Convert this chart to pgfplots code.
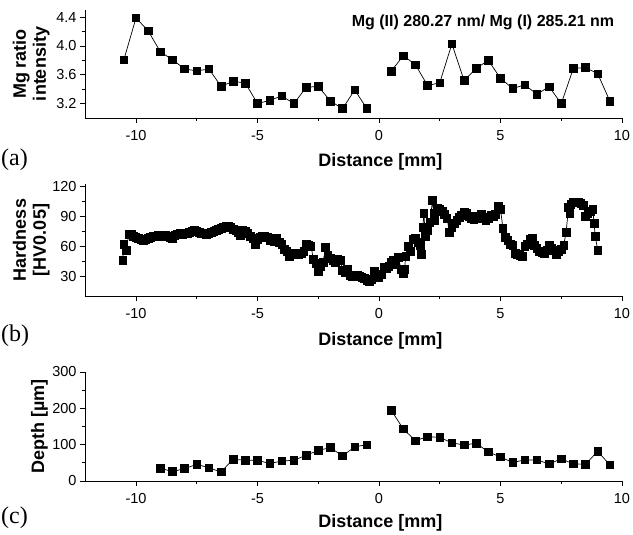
\documentclass[border=0pt]{standalone}
\usepackage{pgfplots}
\pgfplotsset{compat=1.18}
\usepackage{fontspec}
\setmainfont{Liberation Sans}
\newfontfamily\seriffont{Liberation Serif}

\pgfplotsset{
 ser/.style={black, line width=0.7pt, mark=square*, mark size=3.8pt, mark options={solid, fill=black, draw=black}},
 panel/.style={
  scale only axis, width=537pt, xmin=-12.1, xmax=10,
  axis x line*=bottom, axis y line*=left,
  axis line style={-, line width=0.8pt},
  tick align=outside, major tick length=5pt, minor tick length=3pt,
  xtick={-10,-5,0,5,10}, xticklabels={-10,-5,0,5,10},
  minor x tick num=1, minor y tick num=1,
  tick style={black, line width=0.8pt},
  ticklabel style={font=\fontsize{14.5}{14.5}\selectfont},
  xticklabel style={yshift=-4pt},
  label style={font=\fontsize{18}{20}\selectfont\bfseries, align=center},
  xlabel={Distance [mm]},
  clip=false,
 }
}

\begin{document}
\begin{tikzpicture}[x=1pt,y=1pt]
\useasboundingbox (0,0) rectangle (633,535);

% ---------- (a)
\begin{axis}[panel, at={(85pt,417pt)}, anchor=south west, height=108pt,
  ymin=3.0, ymax=4.5, ytick={3.2,3.6,4.0,4.4}, yticklabels={3.2,3.6,4.0,4.4},
  ylabel={Mg ratio\\intensity},
  ylabel style={at={(axis description cs:-0.1,0.5)}, anchor=center},
  xlabel style={at={(axis description cs:0.55,-0.41)}, anchor=center}]
\addplot[ser] coordinates {
(-10.5,3.81) (-10,4.39) (-9.5,4.21) (-9,3.92) (-8.5,3.81) (-8,3.68) (-7.5,3.655)
(-7,3.68) (-6.5,3.44) (-6,3.51) (-5.5,3.485) (-5,3.20) (-4.5,3.245) (-4,3.305)
(-3.5,3.20) (-3,3.425) (-2.5,3.44) (-2,3.235) (-1.5,3.13) (-1,3.39) (-0.5,3.13)};
\addplot[ser] coordinates {
(0.5,3.65) (1,3.865) (1.5,3.74) (2,3.45) (2.5,3.49) (3,4.03) (3.5,3.52) (4,3.69)
(4.5,3.80) (5,3.55) (5.5,3.41) (6,3.46) (6.5,3.33) (7,3.435) (7.5,3.20) (8,3.69)
(8.5,3.70) (9,3.615) (9.5,3.235)};
\end{axis}

% ---------- (b)
\begin{axis}[panel, at={(85pt,239pt)}, anchor=south west, height=112pt,
  ymin=10, ymax=122.5, ytick={30,60,90,120}, yticklabels={30,60,90,120},
  ylabel={Hardness\\{[}HV0.05{]}},
  ylabel style={at={(axis description cs:-0.1,0.5)}, anchor=center},
  xlabel style={at={(axis description cs:0.55,-0.40)}, anchor=center}]
\addplot[ser] coordinates {
(-10.55,46) (-10.5,62) (-10.4,56) (-10.3,72)
(-10.2,72) (-10.1,70) (-10.0,69) (-9.9,68) (-9.8,67) (-9.7,66) (-9.6,67) (-9.5,68)
(-9.4,69) (-9.3,70) (-9.2,70) (-9.1,71) (-9.0,71) (-8.9,70) (-8.8,71) (-8.7,70)
(-8.6,69) (-8.5,68) (-8.4,71) (-8.3,72) (-8.2,73) (-8.1,72) (-8.0,73) (-7.9,73)
(-7.8,74) (-7.7,75) (-7.6,76) (-7.5,75) (-7.4,74) (-7.3,73) (-7.2,73) (-7.1,72)
(-7.0,73) (-6.9,74) (-6.8,75) (-6.7,76) (-6.6,77) (-6.5,78) (-6.4,79) (-6.3,80)
(-6.2,80) (-6.1,79) (-6.0,77) (-5.9,76) (-5.8,74) (-5.7,71) (-5.6,76) (-5.5,75)
(-5.4,73) (-5.3,70) (-5.2,68) (-5.1,62) (-5.0,67) (-4.9,69) (-4.8,70) (-4.7,70)
(-4.6,69) (-4.5,66) (-4.4,68) (-4.3,65) (-4.2,68) (-4.1,64) (-4.0,62) (-3.9,57)
(-3.8,55) (-3.7,50) (-3.6,53) (-3.5,52) (-3.4,53) (-3.3,52) (-3.2,53) (-3.1,55)
(-3.0,62) (-2.9,61) (-2.8,60) (-2.7,47) (-2.6,43) (-2.5,35) (-2.4,40) (-2.3,44)
(-2.2,59) (-2.1,51) (-2.0,48) (-1.9,46) (-1.8,44) (-1.7,47) (-1.6,46) (-1.5,36)
(-1.4,34) (-1.3,37) (-1.2,31) (-1.1,30) (-1.0,30) (-0.9,31) (-0.8,30) (-0.7,29)
(-0.6,28) (-0.5,26) (-0.4,25) (-0.3,27) (-0.2,35) (-0.1,31) (0.0,29) (0.1,32)
(0.2,39) (0.3,38) (0.4,40) (0.5,44) (0.6,46) (0.7,42) (0.8,49) (0.9,37)
(1.0,33) (1.05,37) (1.1,50) (1.2,60) (1.3,55) (1.4,67) (1.5,68) (1.6,64)
(1.7,61) (1.75,52) (1.8,79) (1.85,93) (1.9,70) (2.0,76) (2.1,84) (2.2,106)
(2.25,93) (2.3,86) (2.4,98) (2.5,97) (2.6,95) (2.7,92) (2.8,88) (2.9,74)
(3.0,79) (3.1,83) (3.2,86) (3.3,89) (3.4,91) (3.5,94) (3.6,93) (3.7,90)
(3.8,88) (3.9,87) (4.0,90) (4.1,88) (4.2,92) (4.3,89) (4.4,86) (4.5,88)
(4.6,91) (4.7,90) (4.8,92) (4.9,100) (5.0,97) (5.1,78) (5.2,69) (5.3,66)
(5.4,62) (5.5,61) (5.6,53) (5.7,52) (5.8,51) (5.9,50) (6.0,60) (6.1,62)
(6.2,67) (6.3,68) (6.4,61) (6.5,58) (6.6,55) (6.7,54) (6.8,53) (6.9,56)
(7.0,61) (7.1,58) (7.2,56) (7.3,52) (7.4,55) (7.5,57) (7.6,61) (7.7,74)
(7.8,99) (7.85,93) (7.9,102) (8.0,104) (8.1,104) (8.2,104) (8.3,103) (8.4,101)
(8.5,90) (8.6,93) (8.7,95) (8.8,97) (8.85,83) (8.9,70) (9.0,56)};
\end{axis}

% ---------- (c)
\begin{axis}[panel, at={(85pt,54pt)}, anchor=south west, height=109pt,
  ymin=0, ymax=300, ytick={0,100,200,300}, yticklabels={0,100,200,300},
  ylabel={Depth [µm]},
  ylabel style={at={(axis description cs:-0.085,0.5)}, anchor=center},
  xlabel style={at={(axis description cs:0.55,-0.385)}, anchor=center}]
\addplot[ser] coordinates {
(-9,35) (-8.5,26) (-8,34) (-7.5,46) (-7,36) (-6.5,25) (-6,60) (-5.5,57) (-5,57)
(-4.5,48) (-4,55) (-3.5,57) (-3,71) (-2.5,84) (-2,92) (-1.5,69) (-1,94) (-0.5,100)};
\addplot[ser] coordinates {
(0.5,195) (1,143) (1.5,111) (2,122) (2.5,120) (3,105) (3.5,99) (4,104) (4.5,80)
(5,66) (5.5,51) (6,58) (6.5,58) (7,47) (7.5,61) (8,47) (8.5,46) (9,82) (9.5,44)};
\end{axis}

\node[font=\fontsize{16}{16}\selectfont\bfseries] at (483,513) {Mg (II) 280.27 nm/ Mg (I) 285.21 nm};
\node[font=\seriffont\fontsize{24}{24}\selectfont, anchor=west, inner sep=0pt] at (1,375) {(a)};
\node[font=\seriffont\fontsize{24}{24}\selectfont, anchor=west, inner sep=0pt] at (1,199) {(b)};
\node[font=\seriffont\fontsize{24}{24}\selectfont, anchor=west, inner sep=0pt] at (1,17) {(c)};
\end{tikzpicture}
\end{document}
